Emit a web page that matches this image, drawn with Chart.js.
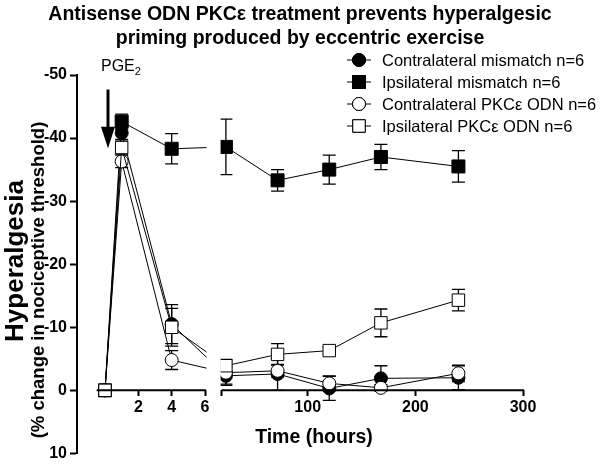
<!DOCTYPE html>
<html><head><meta charset="utf-8">
<script src="https://cdn.jsdelivr.net/npm/chart.js@4/dist/chart.umd.min.js"></script>
<style>html,body{margin:0;padding:0;background:#fff}canvas{display:block}</style>
</head><body>
<canvas id="c" width="600" height="466"></canvas>
<script>
// ---- data ----
const hours = [0, 1, 4, 24, 72, 120, 168, 240];
const contraMismatch    = [0, -40.8, -10.5, -2.3, -2.6, -0.3, -1.9, -2.0];
const contraMismatchSem = [0, 1.0, 3.1, 1.5, 2.6, 1.9, 2.0, 1.9];
const ipsiMismatch      = [0, -42.6, -38.3, -38.6, -33.3, -35.0, -37.0, -35.5];
const ipsiMismatchSem   = [0, 1.2, 2.4, 4.4, 1.7, 2.3, 2.0, 2.5];
const contraPkc         = [0, -36.3, -4.8, -2.8, -3.1, -1.1, -0.4, -2.7];
const contraPkcSem      = [0, 1.0, 1.5, 1.8, 1.0, 1.2, 0.5, 1.3];
const ipsiPkc           = [0, -38.5, -10.0, -3.9, -5.7, -6.3, -10.7, -14.3];
const ipsiPkcSem        = [0, 1.0, 3.0, 1.0, 1.7, 0.6, 2.2, 1.7];
const seriesNames = ['Contralateral mismatch n=6', 'Ipsilateral mismatch n=6', 'Contralateral PKCε ODN n=6', 'Ipsilateral PKCε ODN n=6'];
const xTickValues = [2, 4, 6, 20, 100, 200, 300];
const xTickLabels = ['2', '4', '6', '', '100', '200', '300'];
const titleLines = ['Antisense ODN PKCε treatment prevents hyperalgesic', 'priming produced by eccentric exercise'];

// ---- broken x axis layout (fractions of the axis width) ----
const xSegments = [
  { min: -1.68, max: 6, from: 0, to: 0.2870 },
  { min: 20, max: 300, from: 0.3242, to: 1 }
];
const axisSegmentRanges = [[-0.5, 6], [20, 300]];

const FONT = "'Liberation Sans', Arial, sans-serif";

class BrokenLinearScale extends Chart.LinearScale {
  buildTicks() { return xTickValues.map(v => ({ value: v })); }
  getPixelForValue(value) {
    const a = xSegments[0], b = xSegments[1];
    let f;
    if (value <= a.max) f = a.from + (value - a.min) / (a.max - a.min) * (a.to - a.from);
    else if (value >= b.min) f = b.from + (value - b.min) / (b.max - b.min) * (b.to - b.from);
    else f = a.to + (value - a.max) / (b.min - a.max) * (b.from - a.to);
    return this.left + f * this.width;
  }
  getValueForPixel(pixel) {
    const f = (pixel - this.left) / this.width;
    const a = xSegments[0], b = xSegments[1];
    if (f <= a.to) return a.min + (f - a.from) / (a.to - a.from) * (a.max - a.min);
    if (f >= b.from) return b.min + (f - b.from) / (b.to - b.from) * (b.max - b.min);
    return a.max + (f - a.to) / (b.from - a.to) * (b.min - a.max);
  }
}
BrokenLinearScale.id = 'brokenLinear';
BrokenLinearScale.defaults = Chart.LinearScale.defaults;
Chart.register(BrokenLinearScale);

const semSeries = [contraMismatchSem, ipsiMismatchSem, contraPkcSem, ipsiPkcSem];
const seriesData = [contraMismatch, ipsiMismatch, contraPkc, ipsiPkc];
const toPts = arr => arr.map((v, i) => ({ x: hours[i], y: v }));

const styles = [
  { pointStyle: 'circle', radius: 6.5, fill: '#000' },
  { pointStyle: 'rect', radius: 9.2, fill: '#000' },
  { pointStyle: 'circle', radius: 6.5, fill: '#fff' },
  { pointStyle: 'rect', radius: 8.8, fill: '#fff' }
];

const datasets = seriesData.map((arr, k) => ({
  label: seriesNames[k],
  data: toPts(arr),
  borderColor: '#000',
  borderWidth: 1,
  pointStyle: styles[k].pointStyle,
  pointRadius: styles[k].radius,
  pointBackgroundColor: styles[k].fill,
  pointBorderColor: '#000',
  pointBorderWidth: 1,
  tension: 0,
  order: 4 - k,
  clip: false
}));

const errorBars = {
  id: 'errorBars',
  beforeDatasetsDraw(chart) {
    const { ctx, scales: { x, y } } = chart;
    ctx.save();
    ctx.strokeStyle = '#000';
    ctx.lineWidth = 1.3;
    seriesData.forEach((arr, k) => {
      semSeries[k].forEach((e, i) => {
        if (!e) return;
        const px = x.getPixelForValue(hours[i]);
        const y1 = y.getPixelForValue(arr[i] - e);
        const y2 = y.getPixelForValue(arr[i] + e);
        ctx.beginPath();
        ctx.moveTo(px, y1); ctx.lineTo(px, y2);
        ctx.moveTo(px - 6.5, y1); ctx.lineTo(px + 6.5, y1);
        ctx.moveTo(px - 6.5, y2); ctx.lineTo(px + 6.5, y2);
        ctx.stroke();
      });
    });
    ctx.restore();
  }
};

const decor = {
  id: 'decor',
  afterDatasetsDraw(chart) {
    const { ctx, chartArea, scales: { x, y } } = chart;
    ctx.save();
    const y0 = y.getPixelForValue(0);
    // blank the gap between axis segments (above the axis)
    const g1 = x.getPixelForValue(6) + 1.5, g2 = x.getPixelForValue(20) - 1;
    ctx.fillStyle = '#fff';
    ctx.fillRect(g1, chartArea.top - 10, g2 - g1, y0 - 1.5 - (chartArea.top - 10));
    // broken x axis line at y = 0
    ctx.strokeStyle = '#000';
    ctx.lineWidth = 2;
    axisSegmentRanges.forEach(([a, b]) => {
      ctx.beginPath();
      ctx.moveTo(x.getPixelForValue(a), y0);
      ctx.lineTo(x.getPixelForValue(b) + 1, y0);
      ctx.stroke();
    });
    // PGE2 arrow
    const ax = x.getPixelForValue(0.18);
    const sTop = y.getPixelForValue(-47.7), hTop = y.getPixelForValue(-41.8), tip = y.getPixelForValue(-38.4);
    ctx.fillStyle = '#000';
    ctx.fillRect(ax - 1.5, sTop, 3, hTop - sTop + 1);
    ctx.beginPath();
    ctx.moveTo(ax - 7, hTop); ctx.lineTo(ax + 7, hTop); ctx.lineTo(ax, tip); ctx.closePath();
    ctx.fill();
    ctx.restore();
  },
  afterDraw(chart) {
    const { ctx } = chart;
    ctx.save();
    ctx.fillStyle = '#000';
    ctx.textAlign = 'center';
    ctx.textBaseline = 'middle';
    ctx.save();
    ctx.translate(16, 261); ctx.rotate(-Math.PI / 2);
    ctx.font = 'bold 26px ' + FONT;
    ctx.fillText('Hyperalgesia', 0, 0);
    ctx.restore();
    ctx.save();
    ctx.translate(39, 280); ctx.rotate(-Math.PI / 2);
    ctx.font = 'bold 18.5px ' + FONT;
    ctx.fillText('(% change in nociceptive threshold)', 0, 0);
    ctx.restore();
    ctx.font = 'bold 19.5px ' + FONT;
    ctx.fillText('Time (hours)', 314, 438);
    ctx.textAlign = 'left';
    ctx.font = '16px ' + FONT;
    ctx.fillText('PGE', 101, 67);
    const w = ctx.measureText('PGE').width;
    ctx.font = '11px ' + FONT;
    ctx.fillText('2', 101 + w, 72);
    const rows = [60, 82, 104, 126];
    ctx.font = '16.5px ' + FONT;
    rows.forEach((ry, k) => {
      ctx.strokeStyle = '#000';
      ctx.lineWidth = 1;
      ctx.beginPath(); ctx.moveTo(347, ry); ctx.lineTo(371, ry); ctx.stroke();
      Chart.helpers.drawPoint(ctx, {
        pointStyle: styles[k].pointStyle, radius: styles[k].radius, borderWidth: 1, rotation: 0
      }, 359, ry);
      ctx.fillStyle = styles[k].fill;
      ctx.fill();
      ctx.stroke();
      ctx.fillStyle = '#000';
      ctx.fillText(seriesNames[k], 382, ry + 1);
    });
    ctx.restore();
  }
};

Chart.defaults.color = '#000';
Chart.defaults.font.family = FONT;

new Chart(document.getElementById('c'), {
  type: 'line',
  data: { datasets },
  options: {
    responsive: false,
    animation: false,
    devicePixelRatio: 1,
    layout: { padding: 0 },
    plugins: {
      legend: { display: false },
      tooltip: { enabled: false },
      title: {
        display: true,
        text: titleLines,
        color: '#000',
        font: { size: 19.5, weight: 'bold', lineHeight: 24 / 19.5 },
        padding: { top: 3, bottom: 24 }
      }
    },
    scales: {
      x: {
        type: 'brokenLinear',
        position: { y: 0 },
        min: -1.68,
        max: 300,
        border: { display: false },
        grid: { drawOnChartArea: false, drawTicks: true, tickLength: 6, tickWidth: 2, tickColor: '#000' },
        ticks: {
          autoSkip: false, maxRotation: 0, padding: 2,
          font: { size: 16, weight: 'bold' },
          callback: (v, i) => xTickLabels[i]
        },
        afterFit: s => { s.height = 9; }
      },
      y: {
        type: 'linear',
        position: 'left',
        reverse: true,
        min: -50,
        max: 10,
        border: { display: true, width: 2, color: '#000' },
        grid: { drawOnChartArea: false, drawTicks: true, tickLength: 7, tickWidth: 2, tickColor: '#000' },
        ticks: { stepSize: 10, padding: 3, font: { size: 16, weight: 'bold' } },
        afterFit: s => { s.width = 77; }
      },
      rightSpace: {
        type: 'linear',
        position: 'right',
        display: true,
        border: { display: false },
        grid: { display: false },
        ticks: { display: false },
        afterFit: s => { s.width = 77; }
      }
    }
  },
  plugins: [errorBars, decor]
});
</script>
</body></html>
